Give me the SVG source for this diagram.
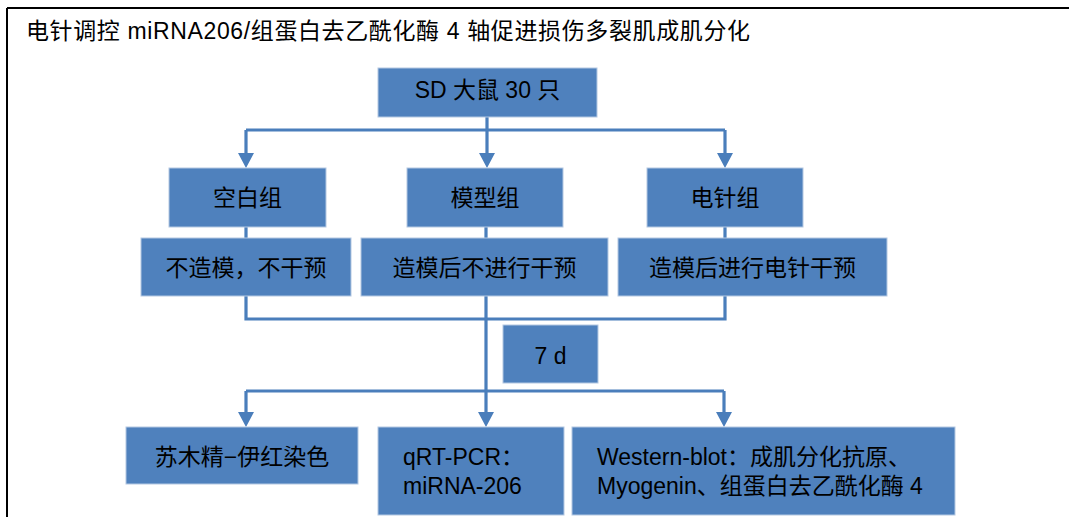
<svg xmlns="http://www.w3.org/2000/svg" width="1069" height="517" viewBox="0 0 1069 517">
<style>
.box{fill:#4F81BD;stroke:#B4C8E2;stroke-width:1}
.t{font-family:"Liberation Sans","Noto Sans CJK SC",sans-serif;font-size:23px;fill:#000}
.c{text-anchor:middle}
.ln{fill:none;stroke:#4A7EBB;stroke-width:3.2}
</style>
<defs>
<marker id="ah" markerUnits="userSpaceOnUse" markerWidth="17" markerHeight="17" refX="7" refY="8" orient="auto">
<path d="M0,0 L15,8 L0,16 z" fill="#4A7EBB"/>
</marker>
</defs>
<g id="frame">
<path d="M7,8 H1069 M7,8 V517" fill="none" stroke="#000" stroke-width="2"/>
<text class="t" x="26" y="39" textLength="724" lengthAdjust="spacing">电针调控 miRNA206/组蛋白去乙酰化酶 4 轴促进损伤多裂肌成肌分化</text>
</g>
<g id="connectors">
<path class="ln" d="M487,117 V160" marker-end="url(#ah)"/>
<path class="ln" d="M246,130 H725"/>
<path class="ln" d="M246,130 V160" marker-end="url(#ah)"/>
<path class="ln" d="M725,130 V160" marker-end="url(#ah)"/>
<path class="ln" d="M246,227 V238 M486,227 V238 M725,227 V238"/>
<path class="ln" d="M246,296 V319 H725 V296"/>
<path class="ln" d="M486,296 V419" marker-end="url(#ah)"/>
<path class="ln" d="M246,391 H724"/>
<path class="ln" d="M246,391 V419" marker-end="url(#ah)"/>
<path class="ln" d="M724,391 V419" marker-end="url(#ah)"/>
</g>
<g id="sd">
<rect class="box" x="378" y="68" width="219" height="49"/>
<text class="t c" x="487.5" y="98">SD 大鼠 30 只</text>
</g>
<g id="blank">
<rect class="box" x="169" y="168" width="157" height="59"/>
<text class="t c" x="247.5" y="206">空白组</text>
</g>
<g id="model">
<rect class="box" x="407" y="168" width="156" height="59"/>
<text class="t c" x="485" y="206">模型组</text>
</g>
<g id="ea">
<rect class="box" x="647" y="168" width="156" height="59"/>
<text class="t c" x="725" y="206">电针组</text>
</g>
<g id="blank-int">
<rect class="box" x="141" y="238" width="210" height="58"/>
<text class="t c" x="246" y="276">不造模，不干预</text>
</g>
<g id="model-int">
<rect class="box" x="361" y="238" width="247" height="58"/>
<text class="t c" x="484.5" y="276">造模后不进行干预</text>
</g>
<g id="ea-int">
<rect class="box" x="618" y="238" width="269" height="58"/>
<text class="t c" x="752.5" y="276">造模后进行电针干预</text>
</g>
<g id="days">
<rect class="box" x="503" y="325" width="95" height="58"/>
<text class="t c" x="550.5" y="364">7 d</text>
</g>
<g id="he">
<rect class="box" x="126" y="427" width="232" height="57"/>
<text class="t c" x="242" y="465">苏木精−伊红染色</text>
</g>
<g id="qpcr">
<rect class="box" x="378" y="427" width="186" height="88"/>
<text class="t" x="403" y="465">qRT-PCR：</text>
<text class="t" x="403" y="494">miRNA-206</text>
</g>
<g id="wb">
<rect class="box" x="572" y="427" width="383" height="88"/>
<text class="t" x="597" y="465">Western-blot：成肌分化抗原、</text>
<text class="t" x="597" y="494">Myogenin、组蛋白去乙酰化酶 4</text>
</g>
</svg>
